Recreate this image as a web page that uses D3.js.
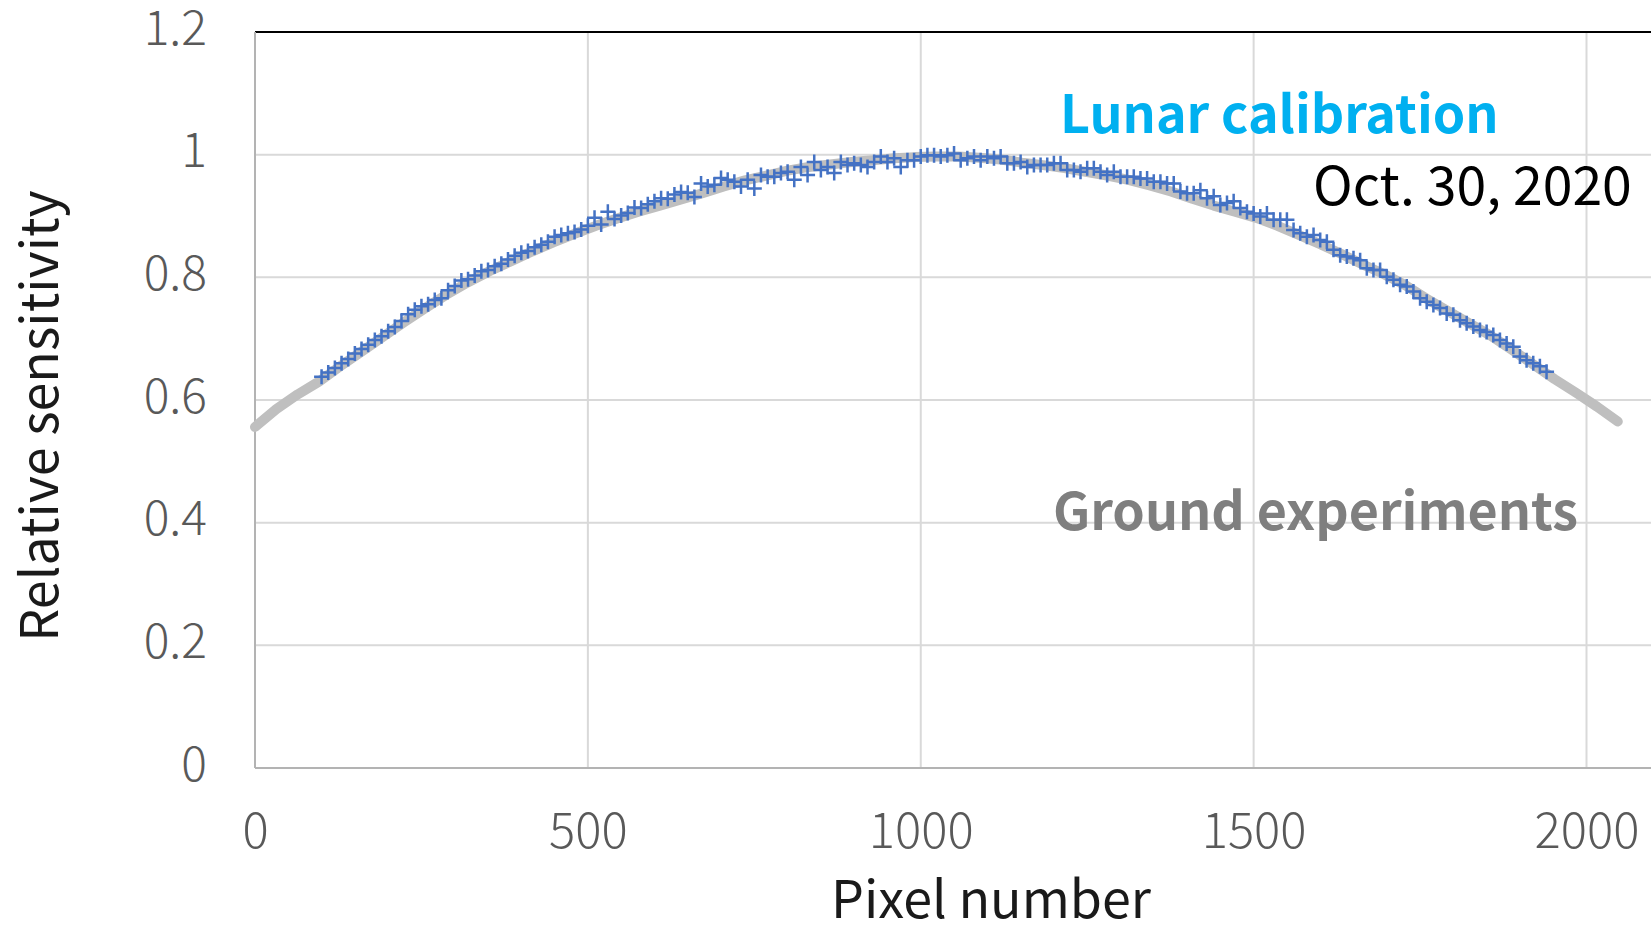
<!DOCTYPE html>
<html>
<head>
<meta charset="utf-8">
<script src="https://cdn.jsdelivr.net/npm/d3@7"></script>
<style>
  html, body { margin: 0; padding: 0; background: #fff; overflow: hidden; }
  svg { display: block; }
  text { font-family: "Noto Sans CJK JP", "Noto Sans", sans-serif; }
</style>
</head>
<body>
<svg id="chart" width="1651" height="925"></svg>
<script>
// ---------------- DATA ----------------
const xTicks = [0, 500, 1000, 1500, 2000];
const yTicks = [0, 0.2, 0.4, 0.6, 0.8, 1, 1.2];
const yTickLabels = ["0", "0.2", "0.4", "0.6", "0.8", "1", "1.2"];

// Ground experiments (grey line): pixel numbers and relative sensitivity
const groundPixels = [0, 32, 64, 96, 128, 160, 192, 224, 256, 288, 320, 352, 384, 416, 448, 480,
  512, 544, 576, 608, 640, 672, 704, 736, 768, 800, 832, 864, 896, 928, 960, 992,
  1024, 1056, 1088, 1120, 1152, 1184, 1216, 1248, 1280, 1312, 1344, 1376, 1408, 1440, 1472, 1504,
  1536, 1568, 1600, 1632, 1664, 1696, 1728, 1760, 1792, 1824, 1856, 1888, 1920, 1952, 1984, 2016, 2047];
const groundValues = [0.556, 0.585, 0.609, 0.630, 0.655, 0.679, 0.703, 0.727, 0.750, 0.772, 0.792, 0.810, 0.826, 0.842, 0.857, 0.871,
  0.884, 0.896, 0.907, 0.917, 0.927, 0.937, 0.948, 0.958, 0.966, 0.974, 0.980, 0.984, 0.988, 0.991, 0.994, 0.996,
  0.997, 0.997, 0.995, 0.992, 0.987, 0.983, 0.978, 0.972, 0.966, 0.959, 0.950, 0.940, 0.928, 0.917, 0.907, 0.897,
  0.884, 0.869, 0.854, 0.838, 0.821, 0.805, 0.787, 0.765, 0.745, 0.725, 0.705, 0.682, 0.658, 0.634, 0.612, 0.589, 0.565];

// Lunar calibration (blue "+" markers), pixel 100 ... 1940
const lunarFirstPixel = 100;
const lunarPixelStep = 10;
const lunarValues = [
  0.638, 0.645, 0.652, 0.660, 0.667, 0.676, 0.683, 0.690, 0.698, 0.704,
  0.712, 0.719, 0.729, 0.740, 0.747, 0.753, 0.756, 0.763, 0.766, 0.779,
  0.786, 0.795, 0.797, 0.803, 0.810, 0.812, 0.818, 0.822, 0.829, 0.835,
  0.840, 0.843, 0.849, 0.853, 0.858, 0.866, 0.869, 0.872, 0.874, 0.878,
  0.884, 0.897, 0.886, 0.907, 0.895, 0.901, 0.905, 0.914, 0.913, 0.919,
  0.924, 0.929, 0.928, 0.935, 0.939, 0.938, 0.931, 0.953, 0.948, 0.951,
  0.962, 0.959, 0.956, 0.948, 0.959, 0.945, 0.967, 0.964, 0.964, 0.970,
  0.972, 0.959, 0.980, 0.967, 0.988, 0.975, 0.980, 0.970, 0.988, 0.983,
  0.986, 0.983, 0.980, 0.988, 0.997, 0.988, 0.994, 0.980, 0.991, 0.991,
  0.997, 0.999, 0.999, 0.997, 0.999, 1.002, 0.991, 0.994, 0.997, 0.991,
  0.997, 0.994, 0.997, 0.986, 0.986, 0.988, 0.980, 0.983, 0.983, 0.983,
  0.986, 0.986, 0.975, 0.975, 0.972, 0.978, 0.978, 0.972, 0.967, 0.972,
  0.964, 0.964, 0.964, 0.961, 0.961, 0.956, 0.956, 0.953, 0.953, 0.940,
  0.937, 0.937, 0.942, 0.929, 0.932, 0.918, 0.921, 0.924, 0.913, 0.907,
  0.904, 0.899, 0.904, 0.894, 0.894, 0.894, 0.877, 0.872, 0.866, 0.869,
  0.861, 0.858, 0.845, 0.836, 0.834, 0.831, 0.828, 0.815, 0.812, 0.812,
  0.801, 0.796, 0.788, 0.785, 0.777, 0.766, 0.760, 0.755, 0.750, 0.741,
  0.739, 0.730, 0.725, 0.720, 0.714, 0.711, 0.706, 0.698, 0.692, 0.687,
  0.671, 0.665, 0.660, 0.655, 0.646];
const lunarPixels = lunarValues.map((v, i) => lunarFirstPixel + i * lunarPixelStep);

// Texts
const xTitle = "Pixel number";
const yTitle = "Relative sensitivity";
const lunarLabel = "Lunar calibration";
const dateLabel = "Oct. 30, 2020";
const groundLabel = "Ground experiments";

// ---------------- LAYOUT ----------------
const svg = d3.select("#chart");
const W = 1651, H = 925;
const plotL = 255, plotT = 32, plotB = 768;
const x = d3.scaleLinear().domain([0, 2000]).range([plotL, 1586.5]);
const y = d3.scaleLinear().domain([0, 1.2]).range([plotB, plotT]);
const tickFont = '"Noto Sans CJK JP", "Noto Sans", sans-serif';

svg.append("rect").attr("width", W).attr("height", H).attr("fill", "#fff");

// gridlines
const grid = svg.append("g");
grid.selectAll("line.h").data(yTicks.filter(t => t > 0 && t < 1.2)).join("line")
  .attr("class", "h")
  .attr("x1", plotL).attr("x2", W).attr("y1", d => y(d)).attr("y2", d => y(d))
  .attr("stroke", "#d9d9d9").attr("stroke-width", 2);
grid.selectAll("line.v").data(xTicks.filter(t => t > 0)).join("line")
  .attr("class", "v")
  .attr("y1", plotT).attr("y2", plotB).attr("x1", d => x(d)).attr("x2", d => x(d))
  .attr("stroke", "#d9d9d9").attr("stroke-width", 2);

// top border
svg.append("line").attr("x1", plotL).attr("x2", W).attr("y1", plotT).attr("y2", plotT)
  .attr("stroke", "#000").attr("stroke-width", 2);

// axes
const yAxis = d3.axisLeft(y).tickValues(yTicks).tickSize(0).tickPadding(48)
  .tickFormat((d, i) => yTickLabels[i]);
const gy = svg.append("g").attr("transform", `translate(${plotL},0)`).call(yAxis);
gy.select(".domain").remove();
gy.selectAll("text").attr("dy", 12).attr("font-size", 48).attr("fill", "#595959")
  .style("font-family", tickFont).attr("font-weight", 300);

const xAxis = d3.axisBottom(x).tickValues(xTicks).tickSize(0).tickFormat(d3.format("d"));
const gx = svg.append("g").attr("transform", `translate(0,${plotB})`).call(xAxis);
gx.select(".domain").remove();
gx.selectAll("text").attr("y", 80).attr("dy", 0).attr("font-size", 49).attr("fill", "#595959")
  .style("font-family", tickFont).attr("font-weight", 300);

// axis lines
svg.append("line").attr("x1", plotL).attr("x2", plotL).attr("y1", plotT).attr("y2", plotB)
  .attr("stroke", "#b3b3b3").attr("stroke-width", 2);
svg.append("line").attr("x1", plotL).attr("x2", W).attr("y1", plotB).attr("y2", plotB)
  .attr("stroke", "#b3b3b3").attr("stroke-width", 2);

// ground line
const line = d3.line().x(d => x(d[0])).y(d => y(d[1])).curve(d3.curveLinear);
svg.append("path").datum(groundPixels.map((p, i) => [p, groundValues[i]]))
  .attr("d", line).attr("fill", "none").attr("stroke", "#bfbfbf")
  .attr("stroke-width", 10).attr("stroke-linecap", "round").attr("stroke-linejoin", "round");

// lunar markers
svg.append("g").selectAll("path").data(lunarPixels.map((p, i) => [p, lunarValues[i]])).join("path")
  .attr("transform", d => `translate(${x(d[0])},${y(d[1])})`)
  .attr("d", "M-7.5,0H7.5M0,-7.5V7.5")
  .attr("stroke", "#4472c4").attr("stroke-width", 2.5).attr("fill", "none");

// titles
svg.append("text").attr("x", 991).attr("y", 918).attr("text-anchor", "middle")
  .attr("font-size", 52).attr("fill", "#1a1a1a").text(xTitle);
svg.append("text").attr("transform", "translate(58,416) rotate(-90)").attr("text-anchor", "middle")
  .attr("font-size", 52).attr("fill", "#1a1a1a").text(yTitle);

// annotations
svg.append("text").attr("x", 1060).attr("y", 133).attr("font-size", 52).attr("font-weight", 700)
  .attr("fill", "#00b0f0").text(lunarLabel);
svg.append("text").attr("x", 1313).attr("y", 205).attr("font-size", 53.5)
  .attr("fill", "#000").text(dateLabel);
svg.append("text").attr("x", 1053).attr("y", 530).attr("font-size", 52).attr("font-weight", 700)
  .attr("fill", "#7f7f7f").text(groundLabel);
</script>
</body>
</html>
